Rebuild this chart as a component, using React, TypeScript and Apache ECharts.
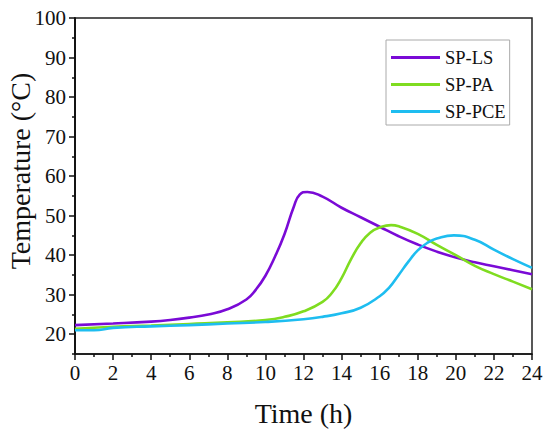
import React, { useEffect, useRef } from "react";
import * as echarts from "echarts";

const seriesNames = ["SP-LS", "SP-PA", "SP-PCE"];
const seriesColors = ["#7a0ad6", "#7fdc20", "#1ebdf0"];

const lsTime = [0, 2, 4, 5, 6, 7, 8, 9, 9.5, 10, 10.5, 11, 11.5, 11.8, 12.2, 13, 14, 15, 16, 17, 18, 19, 20, 21, 22, 23, 24];
const lsTemp = [22.3, 22.7, 23.2, 23.6, 24.2, 25.0, 26.3, 28.8, 31.3, 34.8, 39.6, 45.3, 52.4, 55.3, 56.0, 54.8, 52.0, 49.6, 47.2, 44.8, 42.7, 40.9, 39.4, 38.2, 37.2, 36.2, 35.2];

const paTime = [0, 2, 4, 6, 8, 10, 11, 12, 13, 13.5, 14, 14.5, 15, 15.5, 16, 16.6, 17, 18, 19, 20, 21, 22, 23, 24];
const paTemp = [21.4, 21.9, 22.2, 22.6, 23.0, 23.6, 24.4, 25.8, 28.2, 30.5, 34.2, 39.0, 43.0, 45.7, 47.0, 47.6, 47.3, 45.4, 42.6, 40.0, 37.3, 35.2, 33.3, 31.4];

const pceTime = [0, 1, 2, 4, 6, 8, 10, 12, 13, 14, 15, 16, 16.5, 17, 17.5, 18, 18.5, 19, 19.9, 21, 22, 23, 24];
const pceTemp = [21.0, 21.0, 21.6, 22.0, 22.3, 22.7, 23.1, 23.8, 24.4, 25.3, 26.7, 29.6, 31.8, 35.0, 38.3, 41.2, 43.1, 44.2, 45.0, 43.9, 41.4, 39.0, 36.8];

const yMajorTicks = [20, 30, 40, 50, 60, 70, 80, 90, 100];
const yMinorTicks = [15, 25, 35, 45, 55, 65, 75, 85, 95];

const xTitle = "Time (h)";
const yTitle = "Temperature (°C)";

const FONT = "'Liberation Serif', 'DejaVu Serif', serif";

export default function App() {
  const ref = useRef<HTMLDivElement>(null);
  useEffect(() => {
    if (!ref.current) return;
    const chart = echarts.init(ref.current, undefined, { renderer: "svg" });
    const times = [lsTime, paTime, pceTime];
    const temps = [lsTemp, paTemp, pceTemp];
    const baseY = {
      type: "value",
      min: 15,
      max: 100,
      position: "left",
      splitLine: { show: false },
      axisLine: { show: true, lineStyle: { color: "#111", width: 1.5 } },
    };
    chart.setOption({
      animation: false,
      backgroundColor: "#fff",
      grid: {
        left: 75,
        right: 18,
        top: 18,
        bottom: 82,
        show: true,
        borderColor: "#222",
        borderWidth: 1.5,
        containLabel: false,
      },
      legend: {
        orient: "vertical",
        left: 386,
        top: 40,
        padding: [8, 4, 4, 5],
        icon: "rect",
        itemWidth: 49,
        itemHeight: 3,
        itemGap: 8,
        borderColor: "#aaa",
        borderWidth: 1,
        data: seriesNames,
        textStyle: { fontFamily: FONT, fontSize: 18.5, color: "#111", lineHeight: 18 },
      },
      xAxis: {
        type: "value",
        min: 0,
        max: 24,
        interval: 2,
        name: xTitle,
        nameLocation: "middle",
        nameGap: 45,
        nameTextStyle: { fontFamily: FONT, fontSize: 28, color: "#111" },
        axisLine: { show: true, lineStyle: { color: "#111", width: 1.5 } },
        axisTick: { show: true, length: 6, lineStyle: { color: "#111", width: 1.5 } },
        minorTick: { show: true, splitNumber: 2, length: 3, lineStyle: { color: "#111", width: 1.5 } },
        axisLabel: { fontFamily: FONT, fontSize: 21, color: "#111", margin: 8 },
        splitLine: { show: false },
      },
      yAxis: [
        {
          ...baseY,
          axisTick: {
            show: true,
            length: 6,
            customValues: yMajorTicks,
            lineStyle: { color: "#111", width: 1.5 },
          },
          axisLabel: {
            fontFamily: FONT,
            fontSize: 21,
            color: "#111",
            margin: 9,
            customValues: yMajorTicks,
          },
        },
        {
          ...baseY,
          axisTick: {
            show: true,
            length: 3,
            customValues: yMinorTicks,
            lineStyle: { color: "#111", width: 1.5 },
          },
          axisLabel: { show: false },
        },
      ],
      graphic: [
        {
          type: "text",
          x: 20,
          y: 171,
          rotation: Math.PI / 2,
          style: {
            text: yTitle,
            fontFamily: FONT,
            fontSize: 28,
            fill: "#111",
            align: "center",
            verticalAlign: "middle",
          },
        },
      ],
      series: seriesNames.map((name, i) => ({
        name,
        type: "line",
        yAxisIndex: 0,
        smooth: 0.5,
        symbol: "none",
        lineStyle: { color: seriesColors[i], width: 2.6 },
        itemStyle: { color: seriesColors[i] },
        data: times[i].map((t, j) => [t, temps[i][j]]),
      })),
    });
    return () => chart.dispose();
  }, []);
  return (
    <div
      ref={ref}
      style={{ position: "fixed", left: 0, top: 0, width: 550, height: 436 }}
    />
  );
}
